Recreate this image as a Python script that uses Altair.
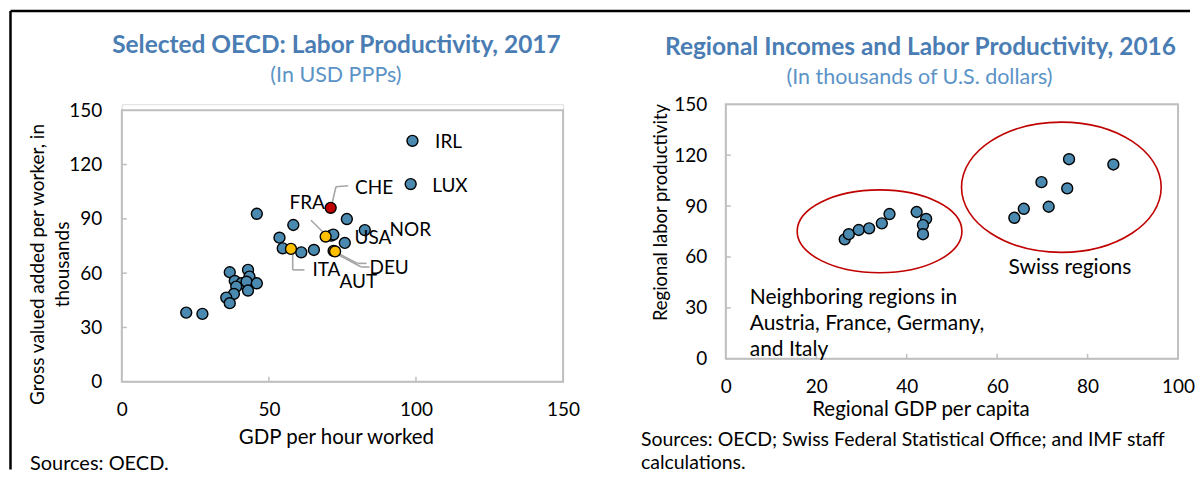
import altair as alt
import pandas as pd

FONT = "Lato"
TITLE_BLUE = "#4a7db3"
SUB_BLUE = "#5b93c7"
PT_BLUE = "#4a8ab1"
PT_YELLOW = "#ffc000"
PT_RED = "#c00000"
FRAME_GRAY = "#bfbfbf"
LEADER_GRAY = "#a6a6a6"
TXT = 19

# ---------------- left panel data (OECD countries, 2017) ----------------
oecd_code = ["IRL", "LUX", "CHE", "NOR", "USA", "FRA", "ITA", "DEU", "AUT",
             "", "", "", "", "", "", "", "", "",
             "", "", "", "", "", "", "", "", "", "", "", "", "", ""]
oecd_gdp_per_hour = [98.8, 98.2, 71.0, 82.6, 71.2, 69.3, 57.5, 72.0, 72.5,
                     76.5, 58.3, 45.9, 53.6, 75.8, 54.7, 61.0, 65.3, 71.9,
                     36.7, 42.9, 38.4, 43.4, 40.7, 42.4, 45.9, 38.9, 42.9,
                     38.1, 35.5, 36.7, 21.9, 27.4]
oecd_gva_per_worker = [133.1, 109.2, 96.1, 83.8, 80.7, 80.2, 73.4, 72.3, 72.0,
                       89.9, 86.6, 92.8, 79.6, 76.7, 73.7, 71.5, 72.8, 81.3,
                       60.5, 61.8, 55.7, 58.1, 54.4, 55.3, 54.4, 52.6, 50.4,
                       48.5, 46.5, 43.4, 38.2, 37.5]
group_of = {"CHE": "Switzerland", "FRA": "Neighbor", "ITA": "Neighbor",
            "DEU": "Neighbor", "AUT": "Neighbor"}
oecd_group = [group_of.get(c, "Other") for c in oecd_code]

# country label anchors (data units)
label_code = ["IRL", "LUX", "CHE", "FRA", "USA", "NOR", "DEU", "AUT", "ITA"]
label_x = [106.5, 105.5, 79.3, 57.0, 79.1, 91.0, 84.2, 74.0, 64.8]
label_y = [132.4, 108.1, 106.8, 98.7, 79.4, 84.0, 62.9, 55.3, 61.8]

# leader segments (data units)
leader_x = [71.5, 72.8, 64.3, 58.1, 58.1, 72.6, 80.1, 72.4, 81.4]
leader_y = [98.7, 107.7, 89.2, 72.2, 61.8, 71.7, 65.4, 71.2, 63.4]
leader_x2 = [72.8, 77.0, 69.4, 58.1, 62.1, 80.1, 83.2, 81.4, 84.2]
leader_y2 = [107.7, 108.3, 81.1, 61.8, 61.8, 65.4, 65.4, 63.4, 63.4]

left_x_ticks = [50, 100]
left_y_ticks = [30, 60, 90, 120]

# ---------------- right panel data (regions, 2016) ----------------
neighbor_gdp_pc = [26.3, 27.2, 29.4, 31.7, 34.5, 36.2, 42.2, 44.3, 43.6, 43.6]
neighbor_prod = [70.4, 73.4, 75.9, 76.9, 79.8, 85.3, 86.5, 82.4, 78.8, 73.4]
swiss_gdp_pc = [63.8, 65.9, 71.4, 69.8, 75.5, 75.9, 85.7]
swiss_prod = [83.1, 88.4, 89.6, 104.1, 100.4, 117.6, 114.5]

# ellipse annotations: centre (data) and pixel size
ell_x = [34.0, 74.2]
ell_y = [75.1, 101.1]
ell_w = [165.0, 200.0]
ell_h = [83.0, 130.5]

note_text = ["Swiss regions", "Neighboring regions in",
             "Austria, France, Germany,", "and Italy"]
note_x = [62.5, 5.3, 5.3, 5.3]
note_y = [53.5, 35.9, 20.6, 5.3]

right_x_ticks = [20, 40, 60, 80]
right_y_ticks = [30, 60, 90, 120]

# ---------------- layout constants ----------------
W1, H1, TOP1 = 442, 278, 6     # left view (plot area starts 6px below view top)
W2, H2 = 453, 255
PT_SIZE = 120

df_oecd = pd.DataFrame({"code": oecd_code, "gdp": oecd_gdp_per_hour,
                        "gva": oecd_gva_per_worker, "group": oecd_group})
df_oecd["rank"] = df_oecd["group"].map({"Other": 0, "Neighbor": 1, "Switzerland": 2})
df_labels = pd.DataFrame({"code": label_code, "x": label_x, "y": label_y})
df_leaders = pd.DataFrame({"x": leader_x, "y": leader_y, "x2": leader_x2, "y2": leader_y2})

xs1 = alt.Scale(domain=[0, 150], nice=False, zero=False)
ys1 = alt.Scale(domain=[0, 150], range=[H1, TOP1], nice=False, zero=False)

common_axis = dict(domain=False, ticks=False, grid=False, labelFlush=False,
                   labelOverlap=False, labelFontSize=TXT,
                   labelColor="#000000", titleColor="#000000",
                   titleFontWeight="normal", labelFont=FONT, titleFont=FONT)

ax1x = alt.Axis(title="GDP per hour worked", values=[0, 50, 100, 150], labelPadding=19,
                titleX=214.5, titleY=56, titleAlign="center", titleBaseline="middle",
                titleFontSize=20.5, **common_axis)
ax1y = alt.Axis(title=["Gross valued added per worker, in", "thousands"],
                values=[0, 30, 60, 90, 120, 150], labelPadding=20,
                titleX=-84, titleY=160, titleAngle=270, titleAlign="center",
                titleBaseline="middle", titleLineHeight=25, titleFontSize=19,
                **common_axis)


def X1(f):
    return alt.X(f, type="quantitative", scale=xs1, axis=ax1x)


def Y1(f):
    return alt.Y(f, type="quantitative", scale=ys1, axis=ax1y)


def text_at(s, x, y, size=TXT, color="#000000", weight="normal", align="left"):
    return alt.Chart(pd.DataFrame({"t": [s]})).mark_text(
        align=align, baseline="middle", fontSize=size, font=FONT, fontWeight=weight,
        color=color
    ).encode(x=alt.value(x), y=alt.value(y), text="t:N")


frame1 = alt.Chart(pd.DataFrame({"a": [0], "b": [150], "c": [0], "d": [150]})).mark_rect(
    fill="white", fillOpacity=0, stroke=FRAME_GRAY, strokeWidth=2
).encode(x=X1("a"), x2="b", y=Y1("c"), y2="d")

xt1 = alt.Chart(pd.DataFrame({"v": left_x_ticks})).mark_rule(
    color=FRAME_GRAY, strokeWidth=1.5
).encode(x=X1("v"), y=alt.value(H1), y2=alt.value(H1 - 5))
yt1 = alt.Chart(pd.DataFrame({"v": left_y_ticks})).mark_rule(
    color=FRAME_GRAY, strokeWidth=1.5
).encode(y=Y1("v"), x=alt.value(0), x2=alt.value(5))

leaders = alt.Chart(df_leaders).mark_rule(color=LEADER_GRAY, strokeWidth=1.6).encode(
    x=X1("x"), y=Y1("y"), x2="x2", y2="y2")

pts1 = alt.Chart(df_oecd).mark_point(
    filled=True, size=PT_SIZE, stroke="black", strokeWidth=1.4, opacity=1, shape="circle"
).encode(
    x=X1("gdp"), y=Y1("gva"),
    fill=alt.Fill("group:N", scale=alt.Scale(domain=["Other", "Neighbor", "Switzerland"],
                                             range=[PT_BLUE, PT_YELLOW, PT_RED]), legend=None),
    order=alt.Order("rank:Q"),
)

labels1 = alt.Chart(df_labels).mark_text(
    align="left", baseline="middle", fontSize=TXT, font=FONT, color="#000000"
).encode(x=X1("x"), y=Y1("y"), text="code:N")

title1 = text_at("Selected  OECD:  Labor  Productivity,  2017", 215, -58, size=24.5,
                 color=TITLE_BLUE, weight="bold", align="center")
sub1 = text_at("(In USD PPPs)", 214.5, -28, size=21.5, color=SUB_BLUE, align="center")
src1 = text_at("Sources: OECD.", -92, 360, size=20)

# outer black border (left and top edges of the figure box)
border_v = alt.Chart(pd.DataFrame({"k": [0]})).mark_rule(color="black", strokeWidth=2.5).encode(
    x=alt.value(-111.5), y=alt.value(-93.5), y2=alt.value(366))
border_h = alt.Chart(pd.DataFrame({"k": [0]})).mark_rule(color="black", strokeWidth=2.5).encode(
    x=alt.value(-111.5), x2=alt.value(1070), y=alt.value(-93.5))

left = alt.layer(frame1, xt1, yt1, leaders, pts1, labels1, title1, sub1, src1,
                 border_v, border_h).properties(width=W1, height=H1)

# ---------------- right panel ----------------
df_reg = pd.DataFrame({"gdp": neighbor_gdp_pc + swiss_gdp_pc,
                       "prod": neighbor_prod + swiss_prod})
df_notes = pd.DataFrame({"t": note_text, "x": note_x, "y": note_y})

xs2 = alt.Scale(domain=[0, 100], nice=False, zero=False)
ys2 = alt.Scale(domain=[0, 150], nice=False, zero=False)
ax2x = alt.Axis(title="Regional GDP per capita", values=[0, 20, 40, 60, 80, 100],
                labelPadding=19, titleX=195, titleY=51, titleAlign="center",
                titleBaseline="middle", titleFontSize=20.5, **common_axis)
ax2y = alt.Axis(title="Regional labor productivity", values=[0, 30, 60, 90, 120, 150],
                labelPadding=19, titleX=-65, titleY=108, titleAngle=270,
                titleAlign="center", titleBaseline="middle", titleFontSize=18.5,
                **common_axis)


def X2(f):
    return alt.X(f, type="quantitative", scale=xs2, axis=ax2x)


def Y2(f):
    return alt.Y(f, type="quantitative", scale=ys2, axis=ax2y)


frame2 = alt.Chart(pd.DataFrame({"a": [0], "b": [100], "c": [0], "d": [150]})).mark_rect(
    fill="white", fillOpacity=0, stroke=FRAME_GRAY, strokeWidth=2
).encode(x=X2("a"), x2="b", y=Y2("c"), y2="d")
xt2 = alt.Chart(pd.DataFrame({"v": right_x_ticks})).mark_rule(
    color=FRAME_GRAY, strokeWidth=1.5
).encode(x=X2("v"), y=alt.value(H2), y2=alt.value(H2 - 5))
yt2 = alt.Chart(pd.DataFrame({"v": right_y_ticks})).mark_rule(
    color=FRAME_GRAY, strokeWidth=1.5
).encode(y=Y2("v"), x=alt.value(0), x2=alt.value(5))

ellipses = []
for cx, cy, w, h in zip(ell_x, ell_y, ell_w, ell_h):
    r = h / w
    path = f"M-1,0A1,{r:.4f},0,1,1,1,0A1,{r:.4f},0,1,1,-1,0Z"
    ellipses.append(
        alt.Chart(pd.DataFrame({"x": [cx], "y": [cy]})).mark_point(
            shape=path, size=w * w, filled=False, stroke=PT_RED, strokeWidth=1.6, opacity=1
        ).encode(x=X2("x"), y=Y2("y"))
    )

pts2 = alt.Chart(df_reg).mark_point(
    filled=True, size=PT_SIZE, stroke="black", strokeWidth=1.4, opacity=1, shape="circle",
    fill=PT_BLUE
).encode(x=X2("gdp"), y=Y2("prod"))

notes = alt.Chart(df_notes).mark_text(
    align="left", baseline="middle", fontSize=21, font=FONT, color="#000000"
).encode(x=X2("x"), y=Y2("y"), text="t:N")

title2 = text_at("Regional  Incomes  and  Labor  Productivity,  2016", 195, -56, size=24.5,
                 color=TITLE_BLUE, weight="bold", align="center")
sub2 = text_at("(In thousands of U.S. dollars)", 194, -26, size=21.5, color=SUB_BLUE,
               align="center")
src2a = text_at("Sources: OECD; Swiss Federal Statistical Office; and IMF staff", -85, 336,
                size=19.5)
src2b = text_at("calculations.", -85, 359, size=19.5)

right = alt.layer(frame2, xt2, yt2, *ellipses, pts2, notes, title2, sub2, src2a,
                  src2b).properties(width=W2, height=H2)

chart = alt.hconcat(left, right, spacing=163, bounds="flush").properties(
    padding=0, background="white"
).configure_view(stroke="transparent").configure(font=FONT)

chart.save("out.html", embed_options={"renderer": "svg", "actions": False})
